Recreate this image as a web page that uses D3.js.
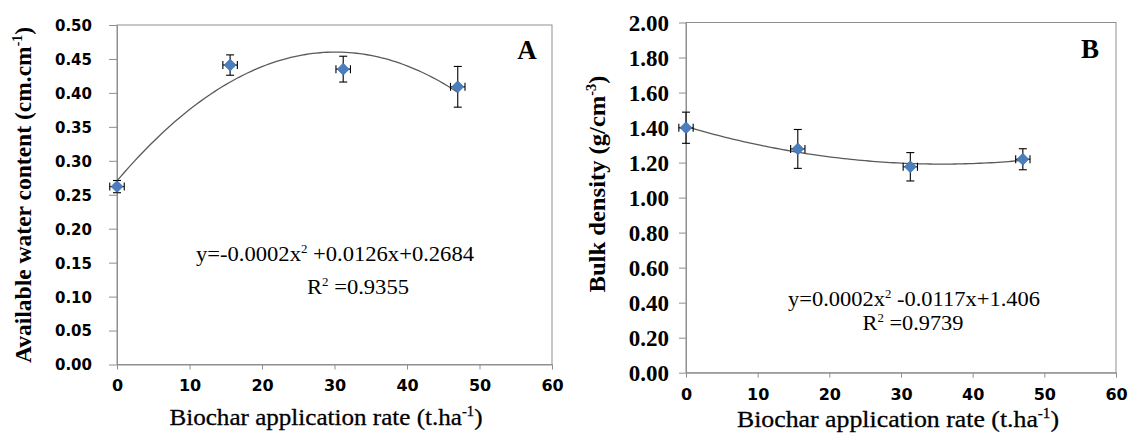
<!DOCTYPE html>
<html>
<head>
<meta charset="utf-8">
<script src="https://cdn.jsdelivr.net/npm/d3@7"></script>
<style>
  html, body { margin: 0; padding: 0; background: #fff; }
  svg { display: block; }
</style>
</head>
<body>
<svg id="chart" width="1128" height="439"></svg>
<script>
// rates of biochar (t/ha) and measured means with std errors
const ratesA = [0, 15.6, 31.2, 47.0];
const waterA = [0.262, 0.441, 0.435, 0.409];
const waterErrA = [0.009, 0.015, 0.019, 0.030];
const rateErrA = [1.0, 1.0, 1.0, 1.0];

const ratesB = [0, 15.6, 31.3, 47.0];
const densityB = [1.399, 1.278, 1.176, 1.219];
const densityErrB = [0.089, 0.111, 0.081, 0.060];
const rateErrB = [1.0, 1.0, 1.0, 1.0];

const xTicks = [0, 10, 20, 30, 40, 50, 60];
const yTicksA = [0.00, 0.05, 0.10, 0.15, 0.20, 0.25, 0.30, 0.35, 0.40, 0.45, 0.50];
const yTicksB = [0.00, 0.20, 0.40, 0.60, 0.80, 1.00, 1.20, 1.40, 1.60, 1.80, 2.00];

const eqA = ["y=-0.0002x", "2", " +0.0126x+0.2684"];
const r2A = "0.9355";
const eqB = ["y=0.0002x", "2", " -0.0117x+1.406"];
const r2B = "0.9739";

let svg = d3.select("#chart");
const serif = "'Liberation Serif', 'Times New Roman', serif";
const sans = "'DejaVu Sans', Verdana, sans-serif";

// least squares quadratic, same as excel's poly trendline
function fitQuad(xs, ys) {
  let S = [0, 0, 0, 0, 0], T = [0, 0, 0];
  xs.forEach((x, i) => {
    for (let k = 0; k < 5; k++) S[k] += Math.pow(x, k);
    for (let k = 0; k < 3; k++) T[k] += ys[i] * Math.pow(x, k);
  });
  let M = [[S[0], S[1], S[2], T[0]], [S[1], S[2], S[3], T[1]], [S[2], S[3], S[4], T[2]]];
  for (let c = 0; c < 3; c++) {
    for (let r = c + 1; r < 3; r++) {
      let f = M[r][c] / M[c][c];
      for (let k = c; k < 4; k++) M[r][k] -= f * M[c][k];
    }
  }
  let coef = [0, 0, 0];
  for (let r = 2; r >= 0; r--) {
    let s = M[r][3];
    for (let k = r + 1; k < 3; k++) s -= M[r][k] * coef[k];
    coef[r] = s / M[r][r];
  }
  return x => coef[0] + coef[1] * x + coef[2] * x * x;
}

function drawPanel(cfg) {
  let g = svg.append("g");
  let x = d3.scaleLinear().domain([0, 60]).range([cfg.left, cfg.right]);
  let y = d3.scaleLinear().domain(cfg.yDomain).range([cfg.bottom, cfg.top]);

  // plot frame
  g.append("rect")
    .attr("x", cfg.left).attr("y", cfg.top)
    .attr("width", cfg.right - cfg.left).attr("height", cfg.bottom - cfg.top)
    .attr("fill", "none").attr("stroke", "#8f8f8f").attr("stroke-width", 1);

  let yAxis = g.append("g")
    .attr("transform", `translate(${cfg.left},0)`)
    .call(d3.axisLeft(y).tickValues(cfg.yTicks).tickSize(cfg.yTickSize)
      .tickSizeOuter(0).tickPadding(cfg.yPad).tickFormat(d3.format(".2f")));
  yAxis.select(".domain").attr("stroke", "#8f8f8f");
  yAxis.selectAll(".tick line").attr("stroke", "#8f8f8f");
  yAxis.selectAll("text")
    .attr("font-family", cfg.yFont).attr("font-weight", "bold")
    .attr("font-size", cfg.yFontSize).attr("fill", "#000")
    .attr("dy", "0.36em");

  let xAxis = g.append("g")
    .attr("transform", `translate(0,${cfg.bottom})`)
    .call(d3.axisBottom(x).tickValues(xTicks).tickSize(5).tickSizeOuter(0));
  xAxis.select(".domain").attr("stroke", "#8f8f8f");
  xAxis.selectAll(".tick line").attr("stroke", "#8f8f8f");
  xAxis.selectAll("text")
    .attr("font-family", sans).attr("font-weight", "bold")
    .attr("font-size", 16).attr("fill", "#000")
    .attr("y", cfg.xLabelBase).attr("dy", 0);

  // trendline
  let f = fitQuad(cfg.xs, cfg.ys);
  let maxX = d3.max(cfg.xs);
  let curve = d3.range(0, maxX + 0.001, 0.5).map(v => [v, f(v)]);
  g.append("path")
    .attr("d", d3.line().x(d => x(d[0])).y(d => y(d[1]))(curve))
    .attr("fill", "none").attr("stroke", "#5a5a5a").attr("stroke-width", 1.3);

  // error bars
  let pts = cfg.xs.map((v, i) => ({x: v, y: cfg.ys[i], ey: cfg.eys[i], ex: cfg.exs[i]}));
  let eb = g.append("g").attr("stroke", "#000").attr("stroke-width", 1.1);
  pts.forEach(p => {
    let cx = x(p.x), cy = y(p.y);
    let y0 = y(p.y - p.ey), y1 = y(p.y + p.ey);
    let x0 = x(p.x - p.ex), x1 = x(p.x + p.ex);
    eb.append("line").attr("x1", cx).attr("x2", cx).attr("y1", y0).attr("y2", y1);
    eb.append("line").attr("x1", cx - 4).attr("x2", cx + 4).attr("y1", y0).attr("y2", y0);
    eb.append("line").attr("x1", cx - 4).attr("x2", cx + 4).attr("y1", y1).attr("y2", y1);
    eb.append("line").attr("x1", x0).attr("x2", x1).attr("y1", cy).attr("y2", cy);
    eb.append("line").attr("x1", x0).attr("x2", x0).attr("y1", cy - 4).attr("y2", cy + 4);
    eb.append("line").attr("x1", x1).attr("x2", x1).attr("y1", cy - 4).attr("y2", cy + 4);
  });

  g.selectAll(".pt").data(pts).enter().append("path")
    .attr("class", "pt")
    .attr("d", d3.symbol(d3.symbolSquare, 72))
    .attr("transform", d => `translate(${x(d.x)},${y(d.y)}) rotate(45)`)
    .attr("fill", "#4a7ebf").attr("stroke", "#3b6aa6").attr("stroke-width", 0.6);

  // titles
  let xt = g.append("text")
    .attr("x", cfg.xTitle[0]).attr("y", cfg.xTitle[1])
    .attr("text-anchor", "middle")
    .attr("font-family", serif).attr("font-size", 24)
    .attr("stroke", "#000").attr("stroke-width", 0.3)
    .attr("textLength", cfg.xTitle[2]).attr("lengthAdjust", "spacingAndGlyphs");
  xt.append("tspan").text("Biochar application rate (t.ha");
  xt.append("tspan").text("-1").attr("font-size", 14).attr("dy", -9);
  xt.append("tspan").text(")").attr("dy", 9);

  let yt = g.append("text")
    .attr("transform", `translate(${cfg.yTitle[0]},${cfg.yTitle[1]}) rotate(-90)`)
    .attr("text-anchor", "middle")
    .attr("font-family", serif).attr("font-weight", "bold").attr("font-size", 24)
    .attr("textLength", cfg.yTitle[2]).attr("lengthAdjust", "spacingAndGlyphs");
  yt.append("tspan").text(cfg.yLabel[0]);
  yt.append("tspan").text(cfg.yLabel[1]).attr("font-size", 14).attr("dy", -9);
  yt.append("tspan").text(")").attr("dy", 9);

  g.append("text")
    .attr("x", cfg.letter[0]).attr("y", cfg.letter[1])
    .attr("text-anchor", "middle")
    .attr("font-family", serif).attr("font-weight", "bold").attr("font-size", 27)
    .text(cfg.letterText);

  // equation
  let eq = g.append("text")
    .attr("x", cfg.eqPos[0]).attr("y", cfg.eqPos[1])
    .attr("text-anchor", "middle")
    .attr("font-family", serif).attr("font-size", 21)
    .attr("textLength", cfg.eqPos[2]).attr("lengthAdjust", "spacingAndGlyphs");
  eq.append("tspan").text(cfg.eq[0]);
  eq.append("tspan").text(cfg.eq[1]).attr("font-size", 12).attr("dy", -8);
  eq.append("tspan").text(cfg.eq[2]).attr("dy", 8);

  let r2 = g.append("text")
    .attr("x", cfg.r2Pos[0]).attr("y", cfg.r2Pos[1])
    .attr("text-anchor", "middle")
    .attr("font-family", serif).attr("font-size", 21)
    .attr("textLength", cfg.r2Pos[2]).attr("lengthAdjust", "spacingAndGlyphs");
  r2.append("tspan").text("R");
  r2.append("tspan").text("2").attr("font-size", 12).attr("dy", -8);
  r2.append("tspan").text(" =" + cfg.r2).attr("dy", 8);
}

drawPanel({
  left: 117, right: 552, top: 25, bottom: 364.5,
  yDomain: [0, 0.5], yTicks: yTicksA, yTickSize: 8, yPad: 17,
  yFont: sans, yFontSize: 15,
  xLabelBase: 26,
  xs: ratesA, ys: waterA, eys: waterErrA, exs: rateErrA,
  xTitle: [326, 425, 313],
  yTitle: [31, 195, 336], yLabel: ["Available water content (cm.cm", "-1"],
  letter: [527, 59], letterText: "A",
  eq: eqA, eqPos: [335, 261, 278], r2: r2A, r2Pos: [358, 294, 102]
});

drawPanel({
  left: 686, right: 1116, top: 22.5, bottom: 372.7,
  yDomain: [0, 2], yTicks: yTicksB, yTickSize: 7, yPad: 10,
  yFont: serif, yFontSize: 23,
  xLabelBase: 27,
  xs: ratesB, ys: densityB, eys: densityErrB, exs: rateErrB,
  xTitle: [898, 427, 322],
  yTitle: [605, 184, 217], yLabel: ["Bulk density (g/cm", "-3"],
  letter: [1090, 58], letterText: "B",
  eq: eqB, eqPos: [914, 306, 252], r2: r2B, r2Pos: [913, 330, 101]
});
</script>
</body>
</html>
